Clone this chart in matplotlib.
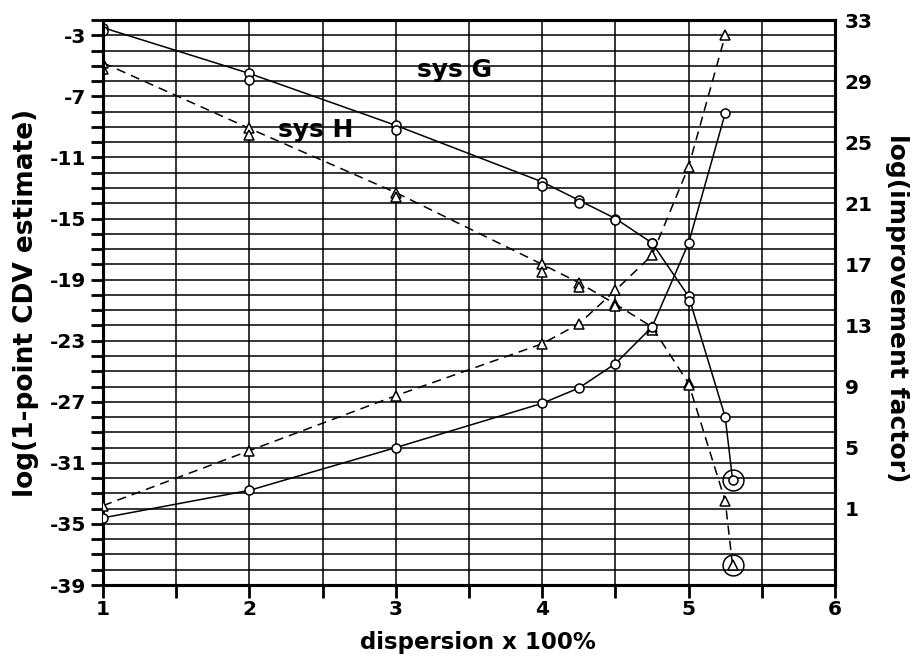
import matplotlib
matplotlib.use('Agg')
import matplotlib.pyplot as plt
from matplotlib.ticker import MultipleLocator, FixedLocator

plt.rcParams['font.family'] = ['DejaVu Sans']
plt.rcParams['font.weight'] = 'bold'
plt.rcParams['axes.unicode_minus'] = False

# dispersion values (x 100%)
x_cdv = [1, 2, 3, 4, 4.25, 4.5, 4.75, 5, 5.25, 5.3]
x_imp = [1, 2, 3, 4, 4.25, 4.5, 4.75, 5, 5.25]

# log(1-point CDV estimate), two estimates per point where available
G_cdv = [-2.5, -5.5, -8.9, -12.6, -13.8, -15.0, -16.6, -20.1, -28.0, -32.1]
G_cdv_2 = [-2.7, -5.9, -9.2, -12.9, -14.0, -15.1, -16.6, -20.4]
H_cdv = [-4.8, -9.1, -13.3, -18.0, -19.2, -20.6, -22.1, -25.8, -33.5, -37.7]
H_cdv_2 = [-5.2, -9.5, -13.6, -18.5, -19.5, -20.7, -22.3, -25.9]

# log(improvement factor)
G_imp = [0.4, 2.2, 5.0, 7.9, 8.9, 10.5, 12.9, 18.4, 26.9]
H_imp = [1.2, 4.8, 8.4, 11.8, 13.1, 15.3, 17.6, 23.4, 32.0]

left_ticks = [-3, -7, -11, -15, -19, -23, -27, -31, -35, -39]
right_ticks = [1, 5, 9, 13, 17, 21, 25, 29, 33]

fig = plt.figure(figsize=(9.14, 6.63), dpi=100)
ax = fig.add_axes([0.1127, 0.1176, 0.8009, 0.8522])
ax2 = ax.twinx()

ax.set_xlim(1, 6)
ax.set_ylim(-39, -2)
ax2.set_ylim(-4, 33)

# grid: every unit on y, every half on x
for v in range(-38, -2):
    ax.axhline(v, color='black', lw=1.1, zorder=1)
for v in [1.5, 2, 2.5, 3, 3.5, 4, 4.5, 5, 5.5]:
    ax.axvline(v, color='black', lw=1.1, zorder=1)

mk = dict(markersize=6.5, markerfacecolor='white', markeredgecolor='black',
          markeredgewidth=1.1)

# CDV estimates (left axis)
ax.plot(x_cdv, G_cdv, '-', color='black', lw=1.1, marker='o', zorder=3, **mk)
ax.plot(x_cdv[:8], G_cdv_2, 'none', marker='o', zorder=3, **mk)
ax.plot(x_cdv, H_cdv, '--', color='black', lw=1.1, dashes=(6, 4),
        marker='^', zorder=3, **mk)
ax.plot(x_cdv[:8], H_cdv_2, 'none', marker='^', zorder=3, **mk)
ax.plot([x_cdv[-1]], [G_cdv[-1]], 'o', markersize=15, markerfacecolor='none',
        markeredgecolor='black', markeredgewidth=1.1, zorder=3)
ax.plot([x_cdv[-1]], [H_cdv[-1]], 'o', markersize=15, markerfacecolor='none',
        markeredgecolor='black', markeredgewidth=1.1, zorder=3)

# improvement factors (right axis)
ax2.plot(x_imp, G_imp, '-', color='black', lw=1.1, marker='o', zorder=3, **mk)
ax2.plot(x_imp, H_imp, '--', color='black', lw=1.1, dashes=(6, 4),
         marker='^', zorder=3, **mk)

ax.text(3.40, -5.3, 'sys G', fontsize=18, fontweight='bold', ha='center', va='center')
ax.text(2.45, -9.2, 'sys H', fontsize=18, fontweight='bold', ha='center', va='center')

ax.xaxis.set_major_locator(FixedLocator([1, 2, 3, 4, 5, 6]))
ax.xaxis.set_minor_locator(FixedLocator([1.5, 2.5, 3.5, 4.5, 5.5]))
ax.yaxis.set_major_locator(FixedLocator(left_ticks))
ax.yaxis.set_minor_locator(MultipleLocator(1))
ax2.yaxis.set_major_locator(FixedLocator(right_ticks))
ax2.yaxis.set_minor_locator(FixedLocator([]))

ax.tick_params(axis='both', which='both', direction='out', length=9, width=2,
               labelsize=14.5, color='black')
ax.tick_params(axis='x', pad=2)
ax.tick_params(axis='y', pad=3)
ax2.tick_params(axis='y', which='both', length=0, labelsize=14.5, pad=7)

for a in (ax, ax2):
    for s in a.spines.values():
        s.set_linewidth(2.2)

ax.set_xlabel('dispersion x 100%', fontsize=16.5, fontweight='bold', va='center')
ax.xaxis.set_label_coords(0.512, -0.101)
ax.set_ylabel('log(1-point CDV estimate)', fontsize=19, fontweight='bold', va='center')
ax.yaxis.set_label_coords(-0.105, 0.5)
ax2.set_ylabel('log(improvement factor)', fontsize=18, fontweight='bold',
               rotation=270, va='center')
ax2.yaxis.set_label_coords(1.085, 0.49)

fig.savefig('out.png', dpi=100)
